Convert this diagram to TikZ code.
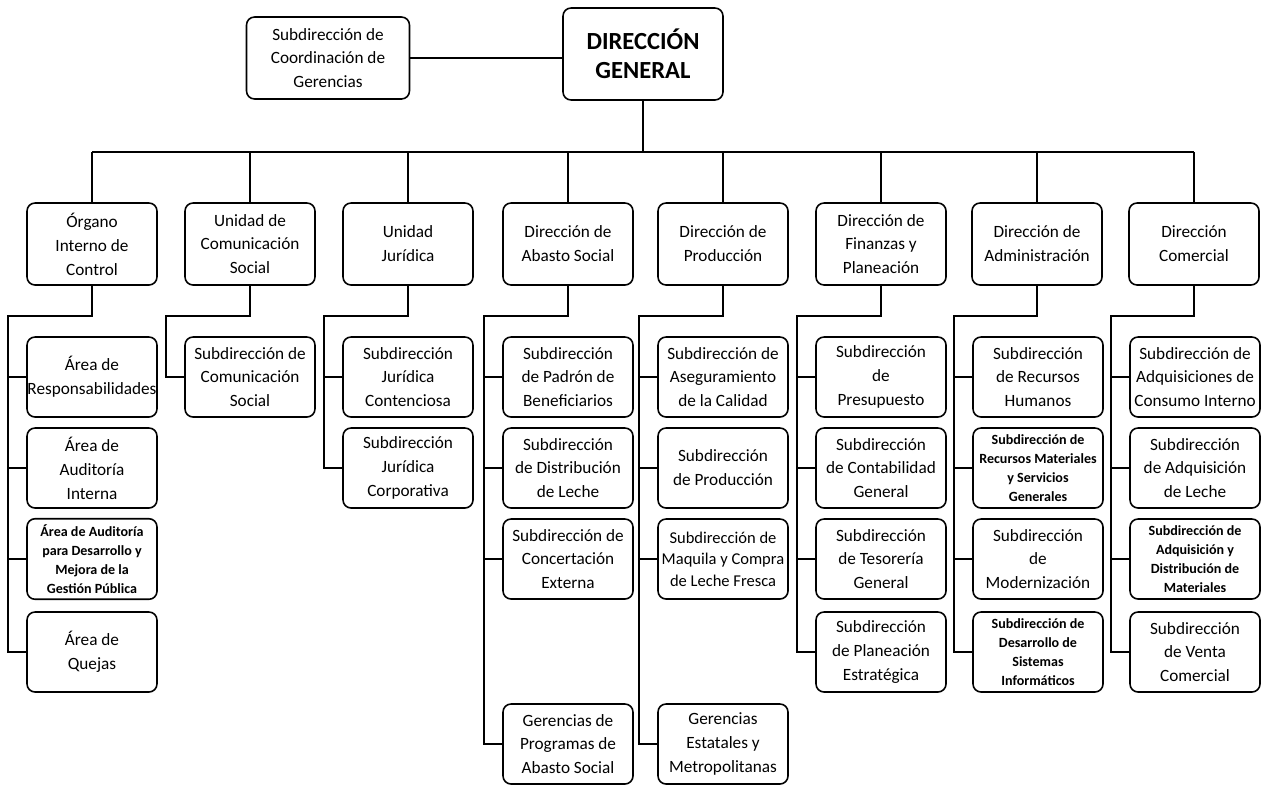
\documentclass[tikz,border=0pt]{standalone}
\usepackage{fontspec}
\setmainfont{Carlito}
\usepackage{tikz}
\usetikzlibrary{positioning}
\tikzstyle{unit} = [rectangle, rounded corners=0.16cm, minimum width=2.6cm, minimum height=1.64cm, inner xsep=0pt, align=center, text centered, draw=black, line width=0.9pt, font=\fontsize{9.8}{13.6}\selectfont]
\tikzstyle{sub} = [unit, minimum height=1.6cm]
\tikzstyle{subsmall} = [sub, font=\fontsize{8}{10.8}\selectfont\bfseries]
\tikzstyle{head} = [unit, minimum width=3.2cm, minimum height=1.84cm, font=\fontsize{14}{16.5}\selectfont\bfseries]
\tikzstyle{line} = [line width=0.9pt]

\begin{document}
\begin{tikzpicture}[x=0.02cm, y=-0.02cm]
\useasboundingbox (0,0) rectangle (1270,785);

\node (dg) [head] at (643,54) {DIRECCIÓN\\GENERAL};
\node (sc) [unit, minimum width=3.26cm] at (328,58) {Subdirección de\\Coordinación de\\Gerencias};
\coordinate (bus) at (643,152);

% primer nivel
\node (oic) [unit] at (92,244) {Órgano\\Interno de\\Control};
\node (ucs) [unit] at (250,244) {Unidad de\\Comunicación\\Social};
\node (uj) [unit] at (408,244) {Unidad\\Jurídica};
\node (das) [unit] at (568,244) {Dirección de\\Abasto Social};
\node (dp) [unit] at (723,244) {Dirección de\\Producción};
\node (dfp) [unit] at (881,244) {Dirección de\\Finanzas y\\Planeación};
\node (da) [unit] at (1037,244) {Dirección de\\Administración};
\node (dc) [unit] at (1194,244) {Dirección\\Comercial};

% subdirecciones
\node (oic1) [sub] at (92,377) {Área de\\Responsabilidades};
\node (oic2) [sub] at (92,468) {Área de\\Auditoría\\Interna};
\node (oic3) [subsmall] at (92,559) {Área de Auditoría\\para Desarrollo y\\Mejora de la\\Gestión Pública};
\node (oic4) [sub] at (92,652) {Área de\\Quejas};

\node (ucs1) [sub] at (250,377) {Subdirección de\\Comunicación\\Social};

\node (uj1) [sub] at (408,377) {Subdirección\\Jurídica\\Contenciosa};
\node (uj2) [sub] at (408,468) {Subdirección\\Jurídica\\Corporativa};

\node (das1) [sub] at (568,377) {Subdirección\\de Padrón de\\Beneficiarios};
\node (das2) [sub] at (568,468) {Subdirección\\de Distribución\\de Leche};
\node (das3) [sub] at (568,559) {Subdirección de\\Concertación\\Externa};
\node (das4) [sub] at (568,744) {Gerencias de\\Programas de\\Abasto Social};

\node (dp1) [sub] at (723,377) {Subdirección de\\Aseguramiento\\de la Calidad};
\node (dp2) [sub] at (723,468) {Subdirección\\de Producción};
\node (dp3) [sub, font=\fontsize{9.4}{12.3}\selectfont] at (723,559) {Subdirección de\\Maquila y Compra\\de Leche Fresca};
\node (dp4) [sub] at (723,744) {Gerencias\\Estatales y\\Metropolitanas};

\node (dfp1) [sub] at (881,377) {Subdirección\\de\\Presupuesto};
\node (dfp2) [sub] at (881,468) {Subdirección\\de Contabilidad\\General};
\node (dfp3) [sub] at (881,559) {Subdirección\\de Tesorería\\General};
\node (dfp4) [sub] at (881,652) {Subdirección\\de Planeación\\Estratégica};

\node (da1) [sub] at (1038,377) {Subdirección\\de Recursos\\Humanos};
\node (da2) [subsmall] at (1038,468) {Subdirección de\\Recursos Materiales\\y Servicios\\Generales};
\node (da3) [sub] at (1038,559) {Subdirección\\de\\Modernización};
\node (da4) [subsmall] at (1038,652) {Subdirección de\\Desarrollo de\\Sistemas\\Informáticos};

\node (dc1) [sub] at (1195,377) {Subdirección de\\Adquisiciones de\\Consumo Interno};
\node (dc2) [sub] at (1195,468) {Subdirección\\de Adquisición\\de Leche};
\node (dc3) [subsmall] at (1195,559) {Subdirección de\\Adquisición y\\Distribución de\\Materiales};
\node (dc4) [sub] at (1195,652) {Subdirección\\de Venta\\Comercial};

% direccion general
\draw [line] (sc.east) -- (sc.east -| dg.west);
\draw [line] (dg.south) -- (bus);
\draw [line] (bus -| oic.north) -- (bus -| dc.north);
\draw [line] (bus -| oic.north) -- (oic.north);
\draw [line] (bus -| ucs.north) -- (ucs.north);
\draw [line] (bus -| uj.north) -- (uj.north);
\draw [line] (bus -| das.north) -- (das.north);
\draw [line] (bus -| dp.north) -- (dp.north);
\draw [line] (bus -| dfp.north) -- (dfp.north);
\draw [line] (bus -| da.north) -- (da.north);
\draw [line] (bus -| dc.north) -- (dc.north);

% ramas
\draw [line] (oic.south) -- ++(0,30) -| ([xshift=-0.36cm]oic4.west) -- (oic4.west);
\draw [line] ([xshift=-0.36cm]oic1.west) -- (oic1.west);
\draw [line] ([xshift=-0.36cm]oic2.west) -- (oic2.west);
\draw [line] ([xshift=-0.36cm]oic3.west) -- (oic3.west);

\draw [line] (ucs.south) -- ++(0,30) -| ([xshift=-0.36cm]ucs1.west) -- (ucs1.west);

\draw [line] (uj.south) -- ++(0,30) -| ([xshift=-0.36cm]uj2.west) -- (uj2.west);
\draw [line] ([xshift=-0.36cm]uj1.west) -- (uj1.west);

\draw [line] (das.south) -- ++(0,30) -| ([xshift=-0.36cm]das4.west) -- (das4.west);
\draw [line] ([xshift=-0.36cm]das1.west) -- (das1.west);
\draw [line] ([xshift=-0.36cm]das2.west) -- (das2.west);
\draw [line] ([xshift=-0.36cm]das3.west) -- (das3.west);

\draw [line] (dp.south) -- ++(0,30) -| ([xshift=-0.36cm]dp4.west) -- (dp4.west);
\draw [line] ([xshift=-0.36cm]dp1.west) -- (dp1.west);
\draw [line] ([xshift=-0.36cm]dp2.west) -- (dp2.west);
\draw [line] ([xshift=-0.36cm]dp3.west) -- (dp3.west);

\draw [line] (dfp.south) -- ++(0,30) -| ([xshift=-0.36cm]dfp4.west) -- (dfp4.west);
\draw [line] ([xshift=-0.36cm]dfp1.west) -- (dfp1.west);
\draw [line] ([xshift=-0.36cm]dfp2.west) -- (dfp2.west);
\draw [line] ([xshift=-0.36cm]dfp3.west) -- (dfp3.west);

\draw [line] (da.south) -- ++(0,30) -| ([xshift=-0.36cm]da4.west) -- (da4.west);
\draw [line] ([xshift=-0.36cm]da1.west) -- (da1.west);
\draw [line] ([xshift=-0.36cm]da2.west) -- (da2.west);
\draw [line] ([xshift=-0.36cm]da3.west) -- (da3.west);

\draw [line] (dc.south) -- ++(0,30) -| ([xshift=-0.36cm]dc4.west) -- (dc4.west);
\draw [line] ([xshift=-0.36cm]dc1.west) -- (dc1.west);
\draw [line] ([xshift=-0.36cm]dc2.west) -- (dc2.west);
\draw [line] ([xshift=-0.36cm]dc3.west) -- (dc3.west);

\end{tikzpicture}
\end{document}
